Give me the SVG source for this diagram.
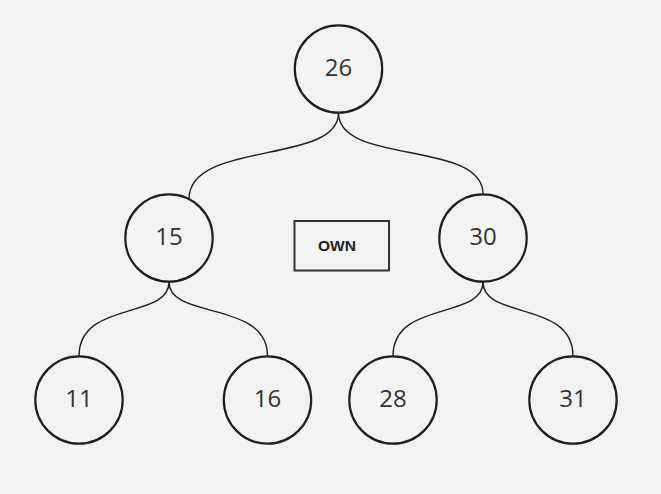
<svg xmlns="http://www.w3.org/2000/svg" width="661" height="494" viewBox="0 0 661 494">
<style>
.n circle{fill:#f2f2f2;stroke:#1e1e1e;stroke-width:2.2}
.n text{font-family:"Open Sans","Noto Sans",sans-serif;font-size:24px;fill:#333;text-anchor:middle}
.e path{fill:none;stroke:#1e1e1e;stroke-width:1.4}
</style>
<rect width="661" height="494" fill="#f2f2f2"/>
<g id="edges" class="e">
<path d="M338.5,113 C338.5,165 189,140 189,199"/>
<path d="M338.5,113 C338.5,165 483,140 483,194"/>
<path d="M169,282 C169,320 79,300 79,356"/>
<path d="M169,282 C169,320 267.5,300 267.5,356"/>
<path d="M483,282 C483,320 393,300 393,356"/>
<path d="M483,282 C483,320 573,300 573,356"/>
</g>
<g id="n26" class="n"><circle cx="338.5" cy="69" r="43.7"/><text x="338.5" y="76">26</text></g>
<g id="n15" class="n"><circle cx="169" cy="238" r="43.7"/><text x="169" y="245">15</text></g>
<g id="n30" class="n"><circle cx="483" cy="238" r="43.7"/><text x="483" y="245">30</text></g>
<g id="n11" class="n"><circle cx="79" cy="400" r="43.7"/><text x="79" y="407">11</text></g>
<g id="n16" class="n"><circle cx="267.5" cy="400" r="43.7"/><text x="267.5" y="407">16</text></g>
<g id="n28" class="n"><circle cx="393" cy="400" r="43.7"/><text x="393" y="407">28</text></g>
<g id="n31" class="n"><circle cx="573" cy="400" r="43.7"/><text x="573" y="407">31</text></g>
<g id="own"><rect x="294.5" y="221" width="94.5" height="49.5" fill="#f2f2f2" stroke="#333" stroke-width="2"/><text x="337" y="251" font-family="Liberation Sans, Arial, sans-serif" font-weight="bold" font-size="15.5" fill="#222" text-anchor="middle">OWN</text></g>
</svg>
